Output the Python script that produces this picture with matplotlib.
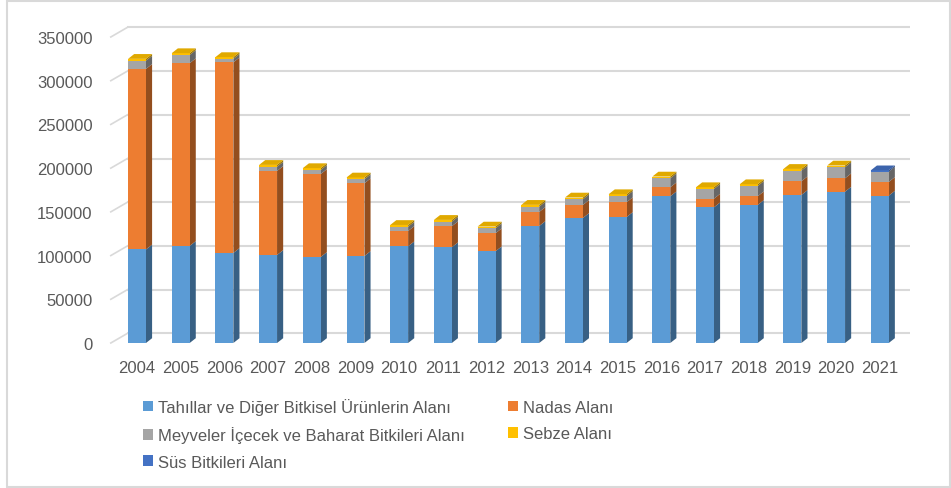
import matplotlib
matplotlib.use("Agg")
import matplotlib.pyplot as plt
from matplotlib.patches import Polygon, Rectangle
import matplotlib.colors as mcolors

years = ["2004", "2005", "2006", "2007", "2008", "2009", "2010", "2011", "2012",
         "2013", "2014", "2015", "2016", "2017", "2018", "2019", "2020", "2021"]
tahillar = [107000, 111000, 103000, 100700, 98400, 99500, 110600, 109500, 104900,
            133800, 143000, 144100, 167800, 155200, 157900, 169300, 173100, 168500]
nadas = [206500, 209000, 218000, 96100, 94900, 83200, 17500, 24000, 20600,
         16100, 14900, 16900, 10300, 9900, 9900, 15700, 15300, 15700]
meyveler = [9500, 9500, 4000, 4900, 4700, 4600, 4900, 5300, 5700,
            6100, 6500, 7200, 10300, 11100, 11800, 12100, 12600, 11800]
sebze = [2000, 2000, 2000, 2000, 2000, 2000, 2000, 2000, 2000,
         2000, 2000, 2000, 2000, 2000, 2000, 2000, 2000, 0]
sus = [0, 0, 0, 0, 0, 0, 0, 0, 0, 0, 0, 0, 0, 0, 0, 0, 0, 1500]
labels = ["Tahıllar ve Diğer Bitkisel Ürünlerin Alanı", "Nadas Alanı",
          "Meyveler İçecek ve Baharat Bitkileri Alanı", "Sebze Alanı",
          "Süs Bitkileri Alanı"]
yticks = [0, 50000, 100000, 150000, 200000, 250000, 300000, 350000]

series = [tahillar, nadas, meyveler, sebze, sus]
colors = ["#5B9BD5", "#ED7D31", "#A5A5A5", "#FFC000", "#4472C4"]

def shade(c, f):
    r, g, b = mcolors.to_rgb(c)
    return (r * f, g * f, b * f)

plt.rcParams['font.family'] = ['Liberation Sans', 'DejaVu Sans']
W, H = 951, 489
fig = plt.figure(figsize=(W / 100, H / 100), dpi=100)
fig.patch.set_facecolor("white")

# outer border
fig.patches.append(Rectangle((7 / W, 1.5 / H), (950 - 7) / W, (487 - 1.5) / H,
                             transform=fig.transFigure, fill=False,
                             edgecolor="#d9d9d9", linewidth=1.5))

x0_px, x1_px = 110.8, 906.0
y0_px, y1_px = 344.0, 38.0
ax = fig.add_axes([x0_px / W, (H - y0_px) / H, (x1_px - x0_px) / W, (y0_px - y1_px) / H])
ax.set_xlim(-0.6, 17.6)
ax.set_ylim(0, 350000)
for s in ax.spines.values():
    s.set_visible(False)
ax.set_facecolor("none")

# back wall gridlines and diagonal ticks
dxb, dyb = 0.38, 11000
for v in yticks:
    ax.plot([-0.6 + dxb, 17.69], [v + dyb, v + dyb], color="#d9d9d9", lw=1.5,
            zorder=0, clip_on=False, solid_capstyle="butt")
    ax.plot([-0.6, -0.6 + dxb], [v, v + dyb], color="#d9d9d9", lw=1.2,
            zorder=0, clip_on=False)

ax.set_yticks(yticks)
ax.set_yticklabels([str(v) for v in yticks])
ax.set_xticks(range(len(years)))
ax.set_xticklabels(years)
ax.tick_params(axis="both", length=0, labelsize=12, labelcolor="#595959")
ax.tick_params(axis="y", pad=13)
ax.tick_params(axis="x", pad=12)

w = 0.41
dx, dy = 0.14, 5500
xs = list(range(len(years)))
bottoms = [0.0] * len(years)
handles = []
for vals, col in zip(series, colors):
    bars = ax.bar(xs, vals, width=w, bottom=bottoms, color=col, zorder=3,
                  edgecolor="none")
    handles.append(bars)
    for i, (b, v) in enumerate(zip(bottoms, vals)):
        if v <= 0:
            continue
        xr = xs[i] + w / 2
        side = Polygon([(xr, b), (xr + dx, b + dy), (xr + dx, b + v + dy), (xr, b + v)],
                       closed=True, facecolor=shade(col, 0.62), edgecolor="none",
                       zorder=2)
        ax.add_patch(side)
    bottoms = [b + v for b, v in zip(bottoms, vals)]

# top faces
for i in xs:
    top_col = None
    for vals, col in zip(series, colors):
        if vals[i] > 0:
            top_col = col
    T = bottoms[i]
    xl, xr = xs[i] - w / 2, xs[i] + w / 2
    top = Polygon([(xl, T), (xl + dx, T + dy), (xr + dx, T + dy), (xr, T)],
                  closed=True, facecolor=shade(top_col, 0.88), edgecolor="none",
                  zorder=4)
    ax.add_patch(top)

order = [0, 2, 4, 1, 3]
leg = fig.legend([handles[k] for k in order], [labels[k] for k in order],
                 loc="upper left", bbox_to_anchor=(143 / W, 1 - 399 / H),
                 ncol=2, frameon=False, fontsize=12, handlelength=0.6,
                 handleheight=0.6, handletextpad=0.3, labelspacing=0.68,
                 columnspacing=2.6, borderpad=0, borderaxespad=0)
for t in leg.get_texts():
    t.set_color("#595959")

fig.savefig("out.png", dpi=100, facecolor="white")
